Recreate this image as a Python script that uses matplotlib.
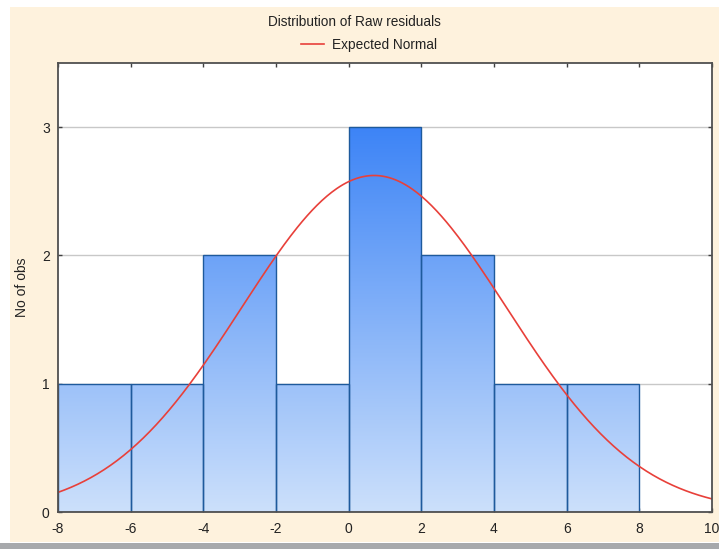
import numpy as np
import matplotlib
matplotlib.use("Agg")
import matplotlib.pyplot as plt
from matplotlib.patches import Rectangle
from matplotlib.colors import LinearSegmentedColormap

# ---- data ----
bin_edges = [-8, -6, -4, -2, 0, 2, 4, 6, 8]
counts = [1, 1, 2, 1, 3, 2, 1, 1]
normal_mean = 0.7
normal_sd = 3.65
x_ticks = [-8, -6, -4, -2, 0, 2, 4, 6, 8, 10]
y_ticks = [0, 1, 2, 3]
title = "Distribution of Raw residuals"
legend_label = "Expected Normal"
y_label = "No of obs"

plt.rcParams['font.family'] = ['Liberation Sans', 'DejaVu Sans']
plt.rcParams['axes.unicode_minus'] = False

W, H = 719, 549
fig = plt.figure(figsize=(W / 100, H / 100), dpi=100)
fig.patch.set_facecolor('white')
# cream panel
fig.patches.append(Rectangle((10 / W, 7 / H), 1 - 10 / W, (542 - 7) / H,
                             transform=fig.transFigure, facecolor='#FEF2DD',
                             edgecolor='none', zorder=-10))
# grey strip at the bottom
fig.patches.append(Rectangle((0, 0), 1, 6 / H, transform=fig.transFigure,
                             facecolor='#A7A9AC', edgecolor='none', zorder=-9))

ax = fig.add_axes([58 / W, (H - 512) / H, (712 - 58) / W, (512 - 63) / H])
ax.set_facecolor('white')

ax.yaxis.grid(True, color='#C8C8C8', linewidth=1.0, zorder=0)
ax.set_axisbelow(True)

widths = np.diff(bin_edges)
lefts = np.array(bin_edges[:-1])
bars = ax.bar(lefts, counts, width=widths, align='edge', facecolor='none',
              edgecolor='#1E5A9C', linewidth=1.0, zorder=3)

cmap = LinearSegmentedColormap.from_list('g', ['#CCE0FB', '#3D84F6'])
grad = np.linspace(0, 1, 256).reshape(-1, 1)
ymax = max(counts)
for b in bars:
    im = ax.imshow(grad, extent=[bin_edges[0], bin_edges[-1], 0, ymax], origin='lower',
                   cmap=cmap, aspect='auto', zorder=2, interpolation='bilinear')
    im.set_clip_path(b)
ax.set_xlim(-8, 10)
ax.set_ylim(0, 3.5)

xs = np.linspace(-8, 10, 400)
n = sum(counts)
bw = widths[0]
ys = n * bw * np.exp(-0.5 * ((xs - normal_mean) / normal_sd) ** 2) / (normal_sd * np.sqrt(2 * np.pi))
line, = ax.plot(xs, ys, color='#E8403A', linewidth=1.2, zorder=4, label=legend_label)

ax.set_xticks(x_ticks)
ax.set_yticks(y_ticks)
ax.tick_params(direction='in', length=3, width=1, colors='#404040', labelcolor='#222222',
               labelsize=10, top=True, right=True, pad=6)
ax.tick_params(axis='x', pad=7)
for s in ax.spines.values():
    s.set_color('#505050')
    s.set_linewidth(1.3)
    s.set_zorder(5)

ax.set_ylabel(y_label, fontsize=10, color='#222222', labelpad=9)

fig.text(0.5 * (272 + 437) / W, 1 - 22 / H, title, ha='center', va='center',
         fontsize=9.8, color='#222222')
fig.legend(handles=[line], loc='center', bbox_to_anchor=(369 / W, 1 - 45 / H),
           frameon=False, fontsize=9.8, handlelength=1.7, handletextpad=0.6,
           borderpad=0, labelcolor='#222222')

fig.savefig('out.png', dpi=100, facecolor=fig.get_facecolor())
